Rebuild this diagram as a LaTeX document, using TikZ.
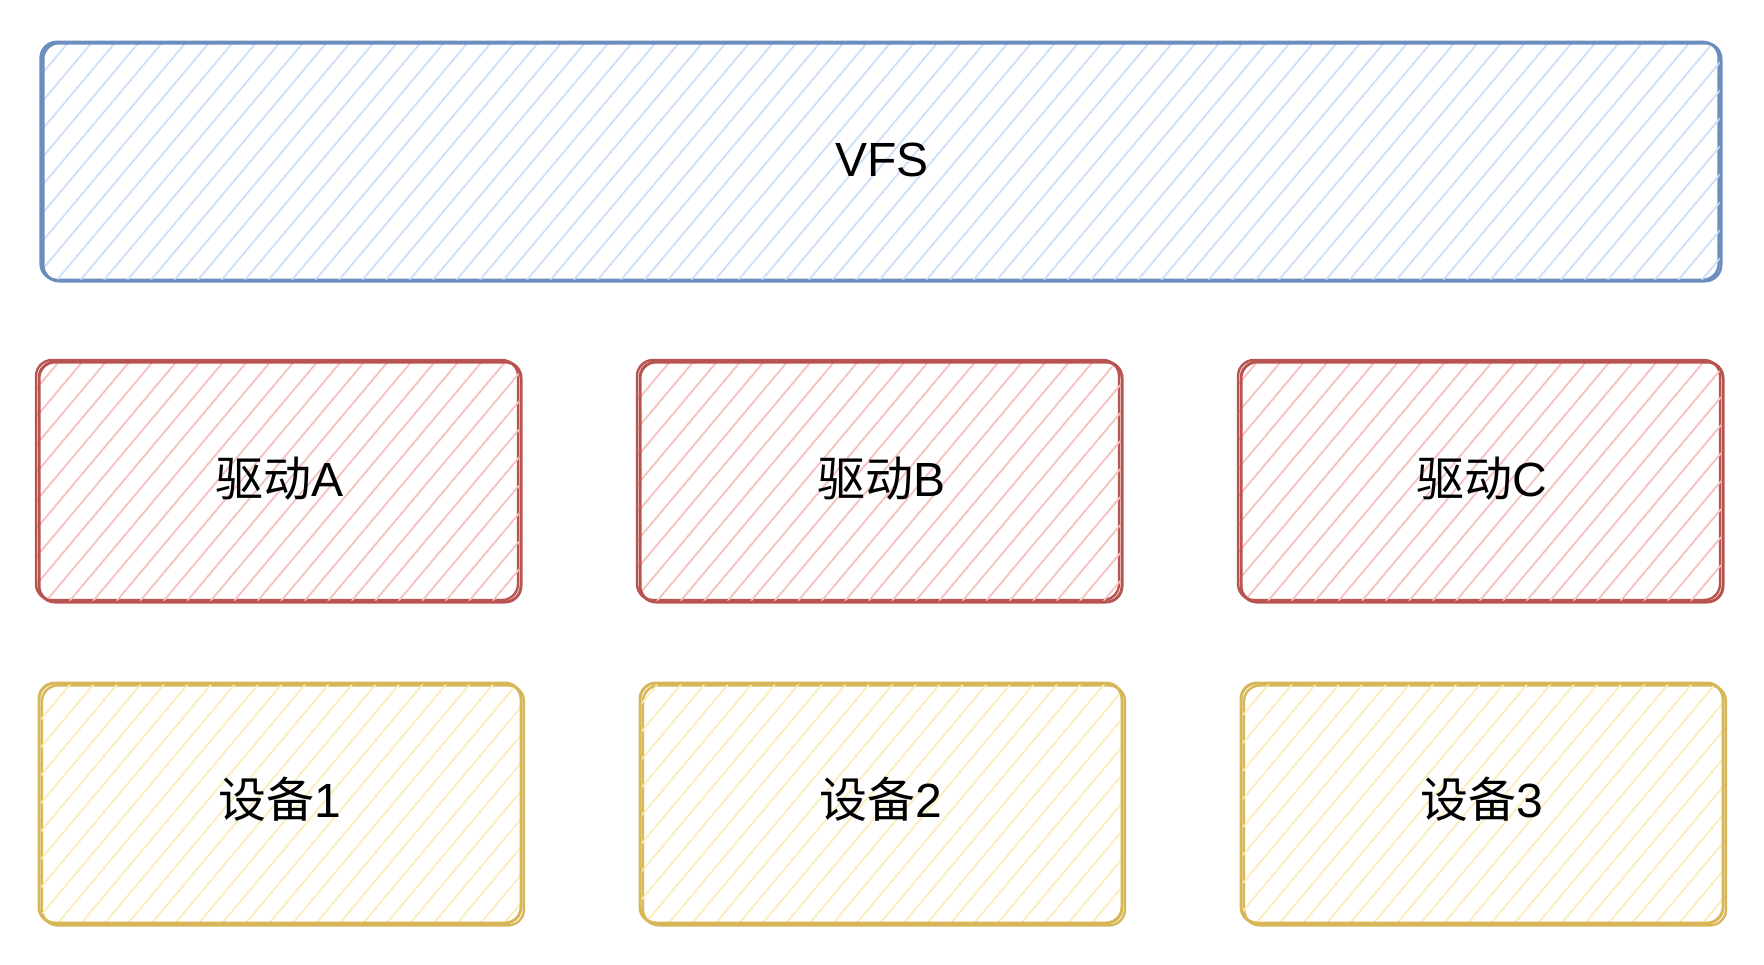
\documentclass[tikz,border=0pt]{standalone}
\usepackage{fontspec}
\setmainfont{Liberation Sans}
\newfontfamily\cjk{Noto Sans CJK SC}
\usetikzlibrary{patterns.meta,shadows}
\definecolor{vfsline}{HTML}{6C8EBF}
\definecolor{vfsfill}{HTML}{CFE0FA}
\definecolor{drvline}{HTML}{B85450}
\definecolor{drvfill}{HTML}{F4C4C2}
\definecolor{devline}{HTML}{D6B656}
\definecolor{devfill}{HTML}{FCEDBD}

\begin{document}
\begin{tikzpicture}[
  x=0.5pt, y=-0.5pt,
  sketch/.style={rounded corners=8pt, line width=1.5pt, align=center, font=\fontsize{24}{28}\selectfont,
    inner sep=0pt, text height=17pt, text depth=2.2pt, pattern={Lines[angle=50, distance=9pt, line width=0.8pt]}},
  vfsbox/.style={sketch, draw=vfsline, pattern color=vfsfill, minimum width=839pt, minimum height=119pt,
    copy shadow={draw=vfsline, line width=1.2pt, shadow xshift=-1.2pt, shadow yshift=0.6pt}},
  drvbox/.style={sketch, draw=drvline, pattern color=drvfill, minimum width=241pt, minimum height=120pt,
    copy shadow={draw=drvline, line width=1.2pt, shadow xshift=-1.5pt, shadow yshift=1pt}},
  devbox/.style={sketch, draw=devline, pattern color=devfill, minimum width=241pt, minimum height=120pt,
    copy shadow={draw=devline, line width=1.2pt, shadow xshift=1.5pt, shadow yshift=-1.2pt}},
]
\useasboundingbox (0,0) rectangle (1764,964);

\node[vfsbox] (vfs) at (882, 162) {VFS};

\node[drvbox] (drvA) at (280, 482) {{\cjk 驱动}A};
\node[drvbox] (drvB) at (881, 482) {{\cjk 驱动}B};
\node[drvbox] (drvC) at (1482, 482) {{\cjk 驱动}C};

\node[devbox] (dev1) at (280, 803) {{\cjk 设备}1};
\node[devbox] (dev2) at (881, 803) {{\cjk 设备}2};
\node[devbox] (dev3) at (1482, 803) {{\cjk 设备}3};

\end{tikzpicture}
\end{document}
